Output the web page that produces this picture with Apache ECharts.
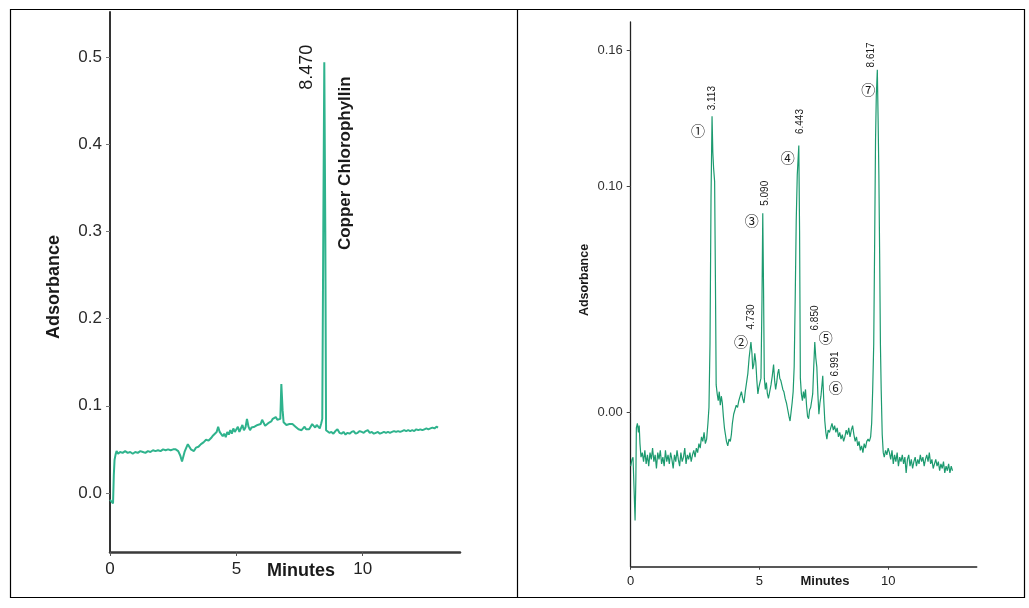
<!DOCTYPE html>
<html><head><meta charset="utf-8">
<script src="https://cdn.jsdelivr.net/npm/echarts@6/dist/echarts.min.js"></script>
<style>html,body{margin:0;padding:0;background:#fff}#c{width:1029px;height:608px}</style>
</head><body><div id="c"></div>
<script>
// ---------- DATA ----------
// Left chromatogram: [minutes, absorbance]
const leftTrace = [
[0.00,-0.008],[0.06,-0.010],[0.12,-0.012],[0.15,0.020],[0.18,0.038],[0.22,0.044],[0.26,0.048],[0.32,0.045],[0.40,0.047],[0.50,0.046],
[0.60,0.048],[0.70,0.046],[0.80,0.047],[0.90,0.045],[1.00,0.047],[1.10,0.046],[1.20,0.048],[1.30,0.047],[1.40,0.046],[1.50,0.048],
[1.60,0.047],[1.70,0.049],[1.80,0.048],[1.90,0.049],[2.00,0.048],[2.10,0.050],[2.20,0.049],[2.30,0.050],[2.40,0.049],[2.50,0.050],
[2.60,0.050],[2.70,0.048],[2.78,0.043],[2.85,0.036],[2.90,0.038],[2.95,0.047],[3.02,0.052],[3.08,0.056],[3.14,0.055],[3.20,0.050],
[3.26,0.052],[3.32,0.048],[3.40,0.052],[3.50,0.053],[3.60,0.056],[3.70,0.058],[3.80,0.061],[3.90,0.060],[4.00,0.063],[4.08,0.066],
[4.15,0.064],[4.22,0.070],[4.28,0.076],[4.34,0.070],[4.40,0.072],[4.46,0.065],[4.52,0.068],[4.58,0.064],[4.64,0.070],[4.70,0.067],
[4.76,0.072],[4.82,0.068],[4.88,0.074],[4.94,0.070],[5.00,0.071],[5.06,0.076],[5.12,0.070],[5.18,0.072],[5.24,0.078],[5.30,0.072],
[5.36,0.075],[5.42,0.085],[5.48,0.076],[5.54,0.072],[5.60,0.075],[5.66,0.073],[5.72,0.076],[5.78,0.074],[5.84,0.078],[5.90,0.076],
[5.96,0.079],[6.02,0.084],[6.08,0.082],[6.14,0.077],[6.20,0.076],[6.26,0.080],[6.32,0.078],[6.38,0.082],[6.44,0.085],[6.50,0.084],
[6.56,0.087],[6.62,0.084],[6.68,0.082],[6.74,0.085],[6.78,0.125],[6.83,0.095],[6.87,0.081],[6.92,0.080],[6.98,0.078],[7.04,0.080],
[7.10,0.079],[7.16,0.077],[7.22,0.079],[7.28,0.077],[7.34,0.076],[7.40,0.078],[7.46,0.073],[7.52,0.075],[7.58,0.072],[7.64,0.073],
[7.70,0.076],[7.76,0.073],[7.82,0.075],[7.88,0.073],[7.94,0.076],[8.00,0.079],[8.06,0.077],[8.12,0.075],[8.18,0.078],[8.24,0.076],
[8.30,0.074],[8.36,0.080],[8.40,0.085],[8.44,0.300],[8.48,0.494],[8.52,0.300],[8.55,0.072],[8.60,0.070],[8.68,0.069],[8.76,0.070],
[8.84,0.068],[8.92,0.071],[9.00,0.073],[9.08,0.069],[9.16,0.068],[9.24,0.070],[9.32,0.067],[9.40,0.069],[9.48,0.068],[9.56,0.070],
[9.64,0.071],[9.72,0.068],[9.80,0.069],[9.88,0.071],[9.96,0.070],[10.04,0.069],[10.12,0.071],[10.20,0.072],[10.28,0.069],[10.36,0.070],
[10.44,0.068],[10.52,0.069],[10.60,0.070],[10.68,0.068],[10.76,0.069],[10.84,0.070],[10.92,0.069],[11.00,0.070],[11.08,0.069],[11.16,0.070],
[11.24,0.071],[11.32,0.070],[11.40,0.071],[11.48,0.070],[11.56,0.071],[11.64,0.072],[11.72,0.071],[11.80,0.072],[11.88,0.071],[11.96,0.072],
[12.04,0.071],[12.12,0.073],[12.20,0.072],[12.28,0.073],[12.36,0.072],[12.44,0.073],[12.52,0.074],[12.60,0.073],[12.68,0.074],[12.76,0.075],
[12.84,0.074],[12.92,0.076],[12.98,0.075]
];

// Right chromatogram: [minutes, absorbance]
const rightTrace = [
[0.00,-0.024],[0.05,-0.021],[0.09,-0.020],[0.13,-0.034],[0.17,-0.048],[0.20,-0.030],[0.22,-0.007],[0.26,-0.005],[0.30,-0.009],[0.33,-0.006],
[0.36,-0.014],[0.40,-0.020],[0.45,-0.018],[0.50,-0.022],[0.55,-0.017],[0.60,-0.023],[0.65,-0.019],[0.70,-0.024],[0.75,-0.018],[0.80,-0.021],
[0.85,-0.016],[0.90,-0.022],[0.95,-0.019],[1.00,-0.025],[1.05,-0.018],[1.10,-0.021],[1.15,-0.017],[1.20,-0.023],[1.25,-0.020],[1.30,-0.024],
[1.35,-0.017],[1.40,-0.022],[1.45,-0.019],[1.50,-0.023],[1.55,-0.018],[1.60,-0.021],[1.65,-0.025],[1.70,-0.019],[1.75,-0.022],[1.80,-0.017],
[1.85,-0.021],[1.90,-0.024],[1.95,-0.018],[2.00,-0.022],[2.05,-0.020],[2.10,-0.016],[2.15,-0.023],[2.20,-0.019],[2.25,-0.021],[2.30,-0.018],
[2.35,-0.022],[2.40,-0.019],[2.45,-0.017],[2.50,-0.020],[2.55,-0.016],[2.60,-0.018],[2.65,-0.014],[2.70,-0.016],[2.75,-0.011],[2.80,-0.013],
[2.85,-0.009],[2.90,-0.014],[2.95,-0.012],[3.00,-0.005],[3.04,0.002],[3.08,0.030],[3.12,0.095],[3.16,0.131],[3.19,0.115],[3.22,0.108],
[3.26,0.102],[3.29,0.060],[3.32,0.012],[3.36,0.008],[3.40,0.005],[3.44,0.009],[3.48,0.003],[3.52,0.007],[3.56,0.004],[3.60,-0.002],
[3.64,-0.007],[3.68,-0.010],[3.72,-0.013],[3.77,-0.015],[3.82,-0.012],[3.87,-0.013],[3.91,-0.010],[3.95,-0.005],[4.00,-0.001],[4.05,0.001],
[4.10,0.003],[4.15,0.002],[4.20,0.005],[4.25,0.007],[4.30,0.009],[4.35,0.006],[4.40,0.004],[4.45,0.009],[4.50,0.013],[4.55,0.017],
[4.60,0.024],[4.67,0.031],[4.71,0.026],[4.74,0.019],[4.78,0.021],[4.82,0.026],[4.86,0.022],[4.90,0.014],[4.94,0.008],[4.98,0.011],
[5.02,0.013],[5.06,0.015],[5.10,0.050],[5.13,0.088],[5.16,0.055],[5.19,0.015],[5.23,0.010],[5.27,0.013],[5.31,0.008],[5.35,0.006],
[5.40,0.009],[5.45,0.012],[5.50,0.016],[5.55,0.021],[5.59,0.014],[5.63,0.010],[5.67,0.013],[5.71,0.017],[5.75,0.019],[5.79,0.015],
[5.83,0.014],[5.87,0.012],[5.91,0.010],[5.95,0.009],[6.00,0.006],[6.05,0.004],[6.10,0.001],[6.15,-0.002],[6.19,-0.004],[6.23,0.000],
[6.27,0.004],[6.31,0.009],[6.35,0.020],[6.39,0.050],[6.43,0.085],[6.47,0.105],[6.53,0.118],[6.56,0.080],[6.59,0.015],[6.63,0.008],
[6.67,0.005],[6.71,0.009],[6.75,0.006],[6.79,0.010],[6.83,0.003],[6.87,-0.002],[6.91,-0.003],[6.95,0.001],[6.99,0.002],[7.03,0.005],
[7.07,0.008],[7.11,0.020],[7.15,0.031],[7.19,0.024],[7.23,0.020],[7.27,0.008],[7.31,-0.001],[7.35,0.004],[7.39,0.007],[7.43,0.012],
[7.46,0.016],[7.50,0.005],[7.54,-0.004],[7.58,-0.009],[7.62,-0.012],[7.67,-0.008],[7.72,-0.009],[7.77,-0.007],[7.82,-0.005],[7.87,-0.008],
[7.92,-0.006],[7.97,-0.009],[8.02,-0.007],[8.07,-0.011],[8.12,-0.009],[8.17,-0.012],[8.22,-0.010],[8.27,-0.013],[8.32,-0.011],[8.37,-0.008],
[8.42,-0.010],[8.47,-0.007],[8.52,-0.011],[8.57,-0.008],[8.62,-0.006],[8.67,-0.010],[8.72,-0.013],[8.77,-0.011],[8.82,-0.015],[8.87,-0.013],
[8.92,-0.017],[8.97,-0.015],[9.02,-0.018],[9.07,-0.014],[9.12,-0.016],[9.17,-0.013],[9.22,-0.012],[9.27,-0.013],[9.32,-0.011],[9.36,-0.005],
[9.40,0.010],[9.44,0.030],[9.48,0.080],[9.51,0.120],[9.54,0.140],[9.58,0.1515],[9.61,0.130],[9.64,0.105],[9.67,0.070],[9.70,0.030],
[9.73,0.010],[9.77,-0.010],[9.81,-0.018],[9.85,-0.020],[9.90,-0.017],[9.95,-0.019],[10.00,-0.016],[10.05,-0.018],[10.10,-0.021],[10.15,-0.017],
[10.20,-0.023],[10.25,-0.019],[10.30,-0.022],[10.35,-0.018],[10.40,-0.024],[10.45,-0.020],[10.50,-0.022],[10.55,-0.019],[10.60,-0.023],[10.65,-0.020],
[10.70,-0.027],[10.75,-0.021],[10.80,-0.019],[10.85,-0.024],[10.90,-0.021],[10.95,-0.025],[11.00,-0.022],[11.05,-0.020],[11.10,-0.024],[11.15,-0.021],
[11.20,-0.023],[11.25,-0.019],[11.30,-0.022],[11.35,-0.020],[11.40,-0.024],[11.45,-0.021],[11.50,-0.019],[11.55,-0.022],[11.60,-0.018],[11.65,-0.023],
[11.70,-0.021],[11.75,-0.025],[11.80,-0.023],[11.85,-0.021],[11.90,-0.024],[11.95,-0.022],[12.00,-0.026],[12.05,-0.023],[12.10,-0.025],[12.15,-0.022],
[12.20,-0.027],[12.25,-0.024],[12.30,-0.026],[12.35,-0.023],[12.40,-0.027],[12.45,-0.024],[12.50,-0.026]
];

const leftYTicks = [0, 0.1, 0.2, 0.3, 0.4, 0.5];
const leftYTickLabels = ['0.0', '0.1', '0.2', '0.3', '0.4', '0.5'];
const leftXTicks = [0, 5, 10];
const leftXTickLabels = ['0', '5', '10'];
const rightYTicks = [0, 0.10, 0.16];
const rightYTickLabels = ['0.00', '0.10', '0.16'];
const rightXTicks = [0, 5, 10];
const rightXTickLabels = ['0', '5', '10'];

const axisTitleY = 'Adsorbance';
const axisTitleX = 'Minutes';

const leftPeakTimes = [8.48];
const leftPeakValues = [0.494];
const leftPeakLabels = ['8.470'];
const leftPeakNames = ['Copper Chlorophyllin'];

const rightPeakTimes = [3.16, 4.67, 5.13, 6.53, 7.15, 7.46, 9.58];
const rightPeakValues = [0.131, 0.031, 0.088, 0.118, 0.031, 0.016, 0.1515];
const rightPeakLabels = ['3.113', '4.730', '5.090', '6.443', '6.850', '6.991', '8.617'];
const rightPeakMarks = ['①', '②', '③', '④', '⑤', '⑥', '⑦'];

// ---------- LAYOUT ----------
const FONT = '"Liberation Sans", "DejaVu Sans", Arial, sans-serif';
const CIRC_FONT = '"Noto Sans CJK SC", "DejaVu Sans", sans-serif';
// pixel offsets (from peak apex) for [time label], [circled mark]
const rightLabelOffsets = [[0,-18],[0,-25],[2,-20],[1,-24],[0,-24],[12,-12],[-6,-15]];
const rightMarkOffsets = [[-14,15],[-10,0],[-11,7],[-11,12],[11,-4],[13,12],[-9,20]];
const leftLabelOffset = [-17.5, 5];
const leftNameOffset = [21, 101];

function fmt(ticks, labels) {
  return function (v) {
    const i = ticks.findIndex(t => Math.abs(t - v) < 1e-9);
    return i >= 0 ? labels[i] : '';
  };
}

const chart = echarts.init(document.getElementById('c'), null, { renderer: 'canvas' });

const option = {
  backgroundColor: '#ffffff',
  animation: false,
  grid: [
    { left: 110, top: 12, width: 350, height: 540 },
    { left: 630.7, top: 22, width: 346, height: 544.7 }
  ],
  xAxis: [
    {
      type: 'value', gridIndex: 0, min: 0, max: 13.85,
      axisLine: { show: true, onZero: false, lineStyle: { color: '#3a3a3a', width: 2.5 } },
      axisTick: { show: true, customValues: leftXTicks, length: 4, inside: false, lineStyle: { color: '#555', width: 1 } },
      axisLabel: { show: true, customValues: leftXTicks, formatter: fmt(leftXTicks, leftXTickLabels), margin: 9,
        fontFamily: FONT, fontSize: 17, color: '#222' },
      splitLine: { show: false }
    },
    {
      type: 'value', gridIndex: 1, min: 0, max: 13.44,
      axisLine: { show: true, onZero: false, lineStyle: { color: '#222', width: 1.5 } },
      axisTick: { show: true, customValues: rightXTicks, length: 3, lineStyle: { color: '#444', width: 1 } },
      axisLabel: { show: true, customValues: rightXTicks, formatter: fmt(rightXTicks, rightXTickLabels), margin: 8,
        fontFamily: FONT, fontSize: 13, color: '#222' },
      splitLine: { show: false }
    }
  ],
  yAxis: [
    {
      type: 'value', gridIndex: 0, min: -0.0677, max: 0.5516,
      axisLine: { show: true, onZero: false, lineStyle: { color: '#333', width: 2 } },
      axisTick: { show: true, customValues: leftYTicks, length: 4, lineStyle: { color: '#777', width: 1 } },
      axisLabel: { show: true, customValues: leftYTicks, formatter: fmt(leftYTicks, leftYTickLabels), margin: 8,
        fontFamily: FONT, fontSize: 17, color: '#2a2a2a' },
      splitLine: { show: false }
    },
    {
      type: 'value', gridIndex: 1, min: -0.0685, max: 0.1727,
      axisLine: { show: true, onZero: false, lineStyle: { color: '#222', width: 1.3 } },
      axisTick: { show: true, customValues: rightYTicks, length: 4, lineStyle: { color: '#444', width: 1 } },
      axisLabel: { show: true, customValues: rightYTicks, formatter: fmt(rightYTicks, rightYTickLabels), margin: 8,
        fontFamily: FONT, fontSize: 13, color: '#333' },
      splitLine: { show: false }
    }
  ],
  series: [
    {
      type: 'line', xAxisIndex: 0, yAxisIndex: 0, data: leftTrace,
      showSymbol: false, symbol: 'none', smooth: false,
      lineStyle: { color: '#2fb38d', width: 2 }
    },
    {
      type: 'line', xAxisIndex: 1, yAxisIndex: 1, data: rightTrace,
      showSymbol: false, symbol: 'none', smooth: false,
      lineStyle: { color: '#1c9a6f', width: 1.2 }
    }
  ]
};
chart.setOption(option);

// ---------- annotations (anchored to data via the axes) ----------
const g = [];
// frames
g.push({ type: 'rect', shape: { x: 10.5, y: 9.5, width: 1014, height: 588 }, style: { fill: null, stroke: '#000', lineWidth: 1.2 }, silent: true });
g.push({ type: 'line', shape: { x1: 517.5, y1: 9.5, x2: 517.5, y2: 597.5 }, style: { stroke: '#000', lineWidth: 1.2 }, silent: true });

// axis titles
function text(x, y, str, size, weight, rot, family) {
  return { type: 'text', x: x, y: y, rotation: rot || 0, silent: true,
    style: { text: str, fontFamily: family || FONT, fontSize: size, fontWeight: weight || 'normal', fill: '#1a1a1a',
      align: 'center', verticalAlign: 'middle' } };
}
g.push(text(54, 287, axisTitleY, 18, 'bold', Math.PI / 2));
g.push(text(301, 571, axisTitleX, 18, 'bold', 0));
g.push(text(585, 280, axisTitleY, 12.5, 'bold', Math.PI / 2));
g.push(text(825, 581, axisTitleX, 13, 'bold', 0));

// left peak labels
leftPeakTimes.forEach((t, i) => {
  const p = chart.convertToPixel({ gridIndex: 0 }, [t, leftPeakValues[i]]);
  g.push(text(p[0] + leftLabelOffset[0], p[1] + leftLabelOffset[1], leftPeakLabels[i], 18, 'normal', Math.PI / 2));
  g.push(text(p[0] + leftNameOffset[0], p[1] + leftNameOffset[1], leftPeakNames[i], 17, 'bold', Math.PI / 2));
});
// right peak labels
rightPeakTimes.forEach((t, i) => {
  const p = chart.convertToPixel({ gridIndex: 1 }, [t, rightPeakValues[i]]);
  const lo = rightLabelOffsets[i], mo = rightMarkOffsets[i];
  g.push(text(p[0] + lo[0], p[1] + lo[1], rightPeakLabels[i], 10, 'normal', Math.PI / 2));
  g.push(text(p[0] + mo[0], p[1] + mo[1], rightPeakMarks[i], 14, 'normal', 0, CIRC_FONT));
});
chart.setOption({ graphic: g });
</script>
</body></html>
